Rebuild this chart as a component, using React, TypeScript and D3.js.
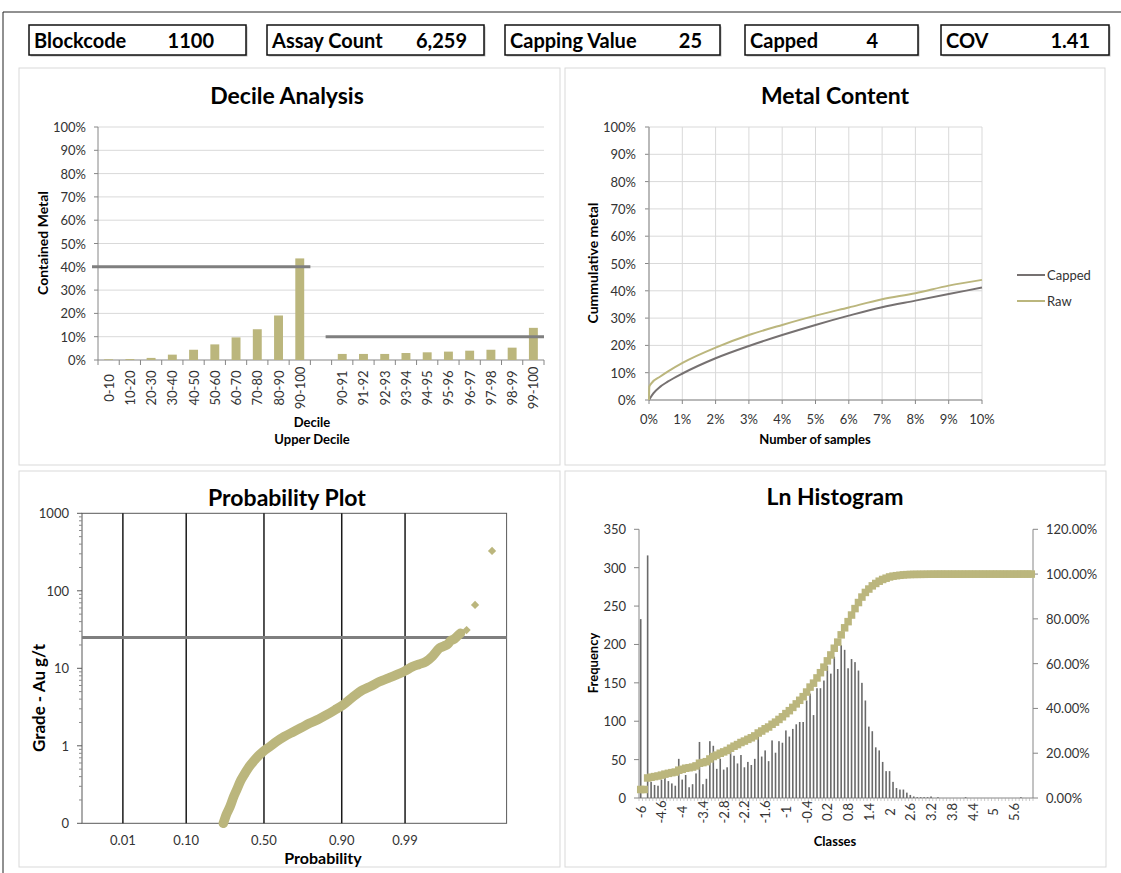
import React from 'react';
import * as d3 from 'd3';

// header strip
const headerLabels = ['Blockcode', 'Assay Count', 'Capping Value', 'Capped', 'COV'];
const headerValues = ['1100', '6,259', '25', '4', '1.41'];

// decile analysis (% of contained metal)
const decileLower = ['0-10', '10-20', '20-30', '30-40', '40-50', '50-60', '60-70', '70-80', '80-90', '90-100'];
const decileLowerMetal = [0.3, 0.4, 0.9, 2.3, 4.4, 6.7, 9.7, 13.2, 19.1, 43.6];
const decileUpper = ['90-91', '91-92', '92-93', '93-94', '94-95', '95-96', '96-97', '97-98', '98-99', '99-100'];
const decileUpperMetal = [2.6, 2.6, 2.6, 3.0, 3.3, 3.6, 4.0, 4.4, 5.3, 13.8];
const decileLowerRef = 40;
const decileUpperRef = 10;

// metal content (% of samples vs % cumulative metal)
const cappedSamples = [0, 0.13, 0.34, 0.56, 1.02, 2, 3, 4, 5, 6, 7, 8, 9, 10];
const cappedMetal = [0, 2.4, 4.9, 6.7, 9.8, 15.3, 19.8, 23.8, 27.5, 30.9, 34.0, 36.4, 38.8, 41.2];
const rawSamples = [0, 0.01, 0.07, 0.34, 0.56, 1.02, 2, 3, 4, 5, 6, 7, 8, 9, 10];
const rawMetal = [0, 4.9, 6.1, 8.6, 10.4, 13.7, 19.2, 23.8, 27.5, 30.9, 33.9, 36.9, 39.1, 41.9, 44.0];

// probability plot (normal score vs grade)
const probZ = [-0.67, -0.62, -0.56, -0.5, -0.45, -0.38, -0.315, -0.25, -0.18, -0.1, -0.015, 0.1, 0.205, 0.34,
  0.48, 0.62, 0.75, 0.9, 1.03, 1.17, 1.3, 1.47, 1.63, 1.77, 1.9, 2.04, 2.18, 2.32, 2.45, 2.56, 2.67, 2.78,
  2.89, 2.97, 3.03, 3.08, 3.14, 3.19, 3.24, 3.34, 3.48, 3.76];
const probGrade = [0.1, 0.13, 0.164, 0.22, 0.27, 0.36, 0.44, 0.53, 0.62, 0.73, 0.84, 0.98, 1.13, 1.32,
  1.51, 1.72, 1.95, 2.2, 2.5, 2.9, 3.36, 4.3, 5.25, 5.9, 6.7, 7.4, 8.2, 9.2, 10.5, 11.3, 12.2, 14.4,
  18.1, 19.4, 20.5, 22.7, 24, 26.1, 28.3, 31.2, 65.6, 327];
const probTickLabels = ['0.01', '0.10', '0.50', '0.90', '0.99'];
const probTickZ = [-2.326, -1.282, 0, 1.282, 2.326];
const gradeTicks = [0.1, 1, 10, 100, 1000];
const gradeTickLabels = ['0', '1', '10', '100', '1000'];
const cappingValue = 25;

// ln histogram frequencies, one per class
const histFreq = [
  233, 0, 316, 21, 17, 16,
  24, 27, 22, 19, 16, 51,
  24, 30, 14, 18, 32, 73,
  18, 25, 74, 68, 38, 51,
  37, 40, 61, 55, 45, 56,
  40, 47, 43, 51, 80, 54,
  62, 48, 75, 59, 74, 72,
  88, 80, 90, 96, 99, 99,
  127, 136, 108, 143, 143, 153,
  172, 162, 184, 168, 199, 193,
  169, 181, 177, 166, 150, 127,
  93, 87, 66, 62, 47, 35,
  35, 21, 13, 11, 11, 7,
  4, 2, 1, 1, 1, 1,
  2, 0, 1, 0, 0, 0,
  0, 0, 0, 0, 1, 0,
  0, 0, 0, 0, 0, 0,
  0, 0, 0, 0, 0, 0,
  0, 0, 1, 0, 0, 0,
];
const histClasses = [-6, ...d3.range(1, histFreq.length).map((k) => +(-5.1 + (k - 1) * 0.1).toFixed(1))];

const FONT = 'Lato, "Open Sans", sans-serif';
const OLIVE = '#BBB67D';
const GRID = '#d9d9d9';
const AXIS = '#868686';
const TXT = '#333';
const TICK = 13;

const Panel = ({ x, y, w, h }) => (
  <rect x={x} y={y} width={w} height={h} fill="white" stroke={GRID} strokeWidth={1} />
);

const Title = ({ x, y, text }) => (
  <text x={x} y={y} textAnchor="middle" fontSize={23} fontWeight="bold" fill="#000">{text}</text>
);

const VTitle = ({ x, y, text, size = 13 }) => (
  <text transform={`translate(${x},${y}) rotate(-90)`} textAnchor="middle" dominantBaseline="central"
    fontSize={size} fontWeight="bold" fill="#000">{text}</text>
);

function Header() {
  const boxX = [29, 267, 505, 745, 941];
  const boxW = [217, 217, 215, 173, 168];
  const valEnd = [214, 467, 702, 878, 1090];
  return (
    <g>
      <line x1={3} y1={12} x2={1121} y2={12} stroke="#222" />
      <line x1={3} y1={12} x2={3} y2={873} stroke="#222" />
      {headerLabels.map((l, i) => (
        <g key={l}>
          <rect x={boxX[i] + 1.5} y={26.5} width={boxW[i]} height={30} fill="#bbb" />
          <rect x={boxX[i]} y={25} width={boxW[i]} height={30} fill="white" stroke="#111" strokeWidth={1.5} />
          <text x={boxX[i] + 5} y={47.5} fontSize={20} fontWeight="bold" fill="#000">{l}</text>
          <text x={valEnd[i]} y={47.5} fontSize={20} fontWeight="bold" fill="#000" textAnchor="end">{headerValues[i]}</text>
        </g>
      ))}
    </g>
  );
}

function DecileChart() {
  const cats = [...decileLower, '', ...decileUpper];
  const vals = [...decileLowerMetal, null, ...decileUpperMetal];
  const x = d3.scaleBand<number>().domain(d3.range(cats.length)).range([98, 544]);
  const y = d3.scaleLinear().domain([0, 100]).range([360, 127]);
  const bw = x.bandwidth() * 0.42;
  const ticks = d3.range(0, 101, 10);
  const [x0, x1] = x.range();
  return (
    <g>
      <Panel x={19} y={68} w={541} h={397} />
      <Title x={287} y={104} text="Decile Analysis" />
      {ticks.map((t) => (
        <g key={t}>
          {t > 0 && <line x1={x0} x2={x1} y1={y(t)} y2={y(t)} stroke={GRID} />}
          <line x1={x0 - 4} x2={x0} y1={y(t)} y2={y(t)} stroke={AXIS} />
          <text x={86} y={y(t)} textAnchor="end" dominantBaseline="central" fontSize={TICK} fill={TXT}>{t}%</text>
        </g>
      ))}
      <line x1={x0} x2={x0} y1={y(0)} y2={y(100)} stroke={AXIS} />
      <line x1={x0} x2={x1} y1={y(0)} y2={y(0)} stroke={AXIS} />
      {d3.range(cats.length + 1).map((i) => {
        const px = x0 + i * x.step();
        return <line key={i} x1={px} x2={px} y1={y(0)} y2={y(0) + 5} stroke={AXIS} />;
      })}
      {vals.map((v, i) => v == null ? null : (
        <rect key={i} x={x(i) + (x.bandwidth() - bw) / 2} y={y(v)} width={bw} height={y(0) - y(v)} fill={OLIVE} />
      ))}
      <line x1={x(0) - 6} x2={x(10)} y1={y(decileLowerRef)} y2={y(decileLowerRef)} stroke="#7f7f7f" strokeWidth={3} />
      <line x1={x(11) - 6} x2={x1} y1={y(decileUpperRef)} y2={y(decileUpperRef)} stroke="#7f7f7f" strokeWidth={3} />
      {cats.map((c, i) => (
        <text key={i} transform={`translate(${x(i) + x.bandwidth() / 2},388) rotate(-90)`} textAnchor="middle"
          dominantBaseline="central" fontSize={TICK} fill={TXT}>{c}</text>
      ))}
      <text x={312} y={427} textAnchor="middle" fontSize={13} fontWeight="bold">Decile</text>
      <text x={312} y={444} textAnchor="middle" fontSize={13} fontWeight="bold">Upper Decile</text>
      <VTitle x={42} y={243} text="Contained Metal" size={14} />
    </g>
  );
}

function MetalChart() {
  const x = d3.scaleLinear().domain([0, 10]).range([649, 982]);
  const y = d3.scaleLinear().domain([0, 100]).range([400, 127]);
  const line = d3.line<[number, number]>().x((d) => x(d[0])).y((d) => y(d[1])).curve(d3.curveMonotoneX);
  const capped = cappedSamples.map((s, i) => [s, cappedMetal[i]] as [number, number]);
  const raw = rawSamples.map((s, i) => [s, rawMetal[i]] as [number, number]);
  const CAPPED = '#767171';
  return (
    <g>
      <Panel x={565} y={68} w={540} h={397} />
      <Title x={835} y={104} text="Metal Content" />
      {d3.range(0, 101, 10).map((t) => (
        <g key={t}>
          <line x1={x(0)} x2={x(10)} y1={y(t)} y2={y(t)} stroke={GRID} />
          <line x1={x(0) - 4} x2={x(0)} y1={y(t)} y2={y(t)} stroke={AXIS} />
          <text x={636} y={y(t)} textAnchor="end" dominantBaseline="central" fontSize={TICK} fill={TXT}>{t}%</text>
        </g>
      ))}
      {d3.range(0, 11).map((t) => (
        <g key={t}>
          <line x1={x(t)} x2={x(t)} y1={y(0)} y2={y(100)} stroke={GRID} />
          <line x1={x(t)} x2={x(t)} y1={y(0)} y2={y(0) + 4} stroke={AXIS} />
          <text x={x(t)} y={y(0) + 19} textAnchor="middle" dominantBaseline="central" fontSize={TICK} fill={TXT}>{t}%</text>
        </g>
      ))}
      <line x1={x(0)} x2={x(0)} y1={y(0)} y2={y(100)} stroke={AXIS} />
      <line x1={x(0)} x2={x(10)} y1={y(0)} y2={y(0)} stroke={AXIS} />
      <path d={line(capped)} fill="none" stroke={CAPPED} strokeWidth={2} />
      <path d={line(raw)} fill="none" stroke={OLIVE} strokeWidth={2} />
      <line x1={1017} x2={1045} y1={275} y2={275} stroke={CAPPED} strokeWidth={2} />
      <text x={1047} y={275} dominantBaseline="central" fontSize={TICK} fill={TXT}>Capped</text>
      <line x1={1017} x2={1045} y1={301} y2={301} stroke={OLIVE} strokeWidth={2} />
      <text x={1047} y={301} dominantBaseline="central" fontSize={TICK} fill={TXT}>Raw</text>
      <text x={815} y={444} textAnchor="middle" fontSize={13} fontWeight="bold">Number of samples</text>
      <VTitle x={592} y={263} text="Cummulative metal" size={14} />
    </g>
  );
}

function ProbChart() {
  const x = d3.scaleLinear().domain([-3, 4]).range([82, 506.6]);
  const y = d3.scaleLog().domain([0.1, 1000]).range([823.3, 513.3]);
  const pts = probZ.map((z, i) => [z, probGrade[i]] as [number, number]);
  const dense = pts.filter((p) => p[1] < 29);
  const line = d3.line<[number, number]>().x((d) => x(d[0])).y((d) => y(d[1])).curve(d3.curveMonotoneX);
  const diamond = d3.symbol(d3.symbolSquare, 34)();
  const minors = gradeTicks.slice(0, -1).flatMap((g) => d3.range(2, 10).map((m) => g * m));
  const [x0, x1] = x.range();
  return (
    <g>
      <Panel x={19} y={471} w={541} h={396} />
      <Title x={287} y={506} text="Probability Plot" />
      <rect x={x0} y={y(1000)} width={x1 - x0} height={y(0.1) - y(1000)} fill="none" stroke="#595959" />
      {probTickZ.map((z, i) => (
        <g key={i}>
          <line x1={x(z)} x2={x(z)} y1={y(0.1)} y2={y(1000)} stroke="#1a1a1a" strokeWidth={1.5} />
          <text x={x(z)} y={840} textAnchor="middle" dominantBaseline="central" fontSize={TICK} fill={TXT}>{probTickLabels[i]}</text>
        </g>
      ))}
      {gradeTicks.map((g, i) => (
        <g key={g}>
          <line x1={x0 - 5} x2={x0} y1={y(g)} y2={y(g)} stroke="#595959" />
          <text x={69} y={y(g)} textAnchor="end" dominantBaseline="central" fontSize={TICK} fill={TXT}>{gradeTickLabels[i]}</text>
        </g>
      ))}
      {minors.map((g) => (
        <line key={g} x1={x0 - 3} x2={x0} y1={y(g)} y2={y(g)} stroke="#8a8a8a" />
      ))}
      <line x1={x0} x2={x1} y1={y(cappingValue)} y2={y(cappingValue)} stroke="#7f7f7f" strokeWidth={3} />
      <path d={line(dense)} fill="none" stroke={OLIVE} strokeWidth={9.5} strokeLinecap="round" />
      {pts.map((p, i) => (
        <path key={i} d={diamond} transform={`translate(${x(p[0])},${y(p[1])}) rotate(45)`} fill={OLIVE} />
      ))}
      <text x={323} y={864} textAnchor="middle" fontSize={16} fontWeight="bold">Probability</text>
      <VTitle x={38} y={698} text="Grade - Au g/t" size={17} />
    </g>
  );
}

function HistChart() {
  const idx = d3.range(histFreq.length);
  const x = d3.scaleBand<number>().domain(idx).range([639, 1033]);
  const yL = d3.scaleLinear().domain([0, 350]).range([798, 529.3]);
  const yR = d3.scaleLinear().domain([0, 120]).range([798, 529.3]);
  const total = d3.sum(histFreq);
  const cum = Array.from(d3.cumsum(histFreq)).map((c) => (c / total) * 100);
  const bw = 1.6;
  const [x0, x1] = x.range();
  const ms = 7.5;
  return (
    <g>
      <Panel x={565} y={471} w={541} h={396} />
      <Title x={835} y={505} text="Ln Histogram" />
      {d3.range(0, 351, 50).map((t) => (
        <g key={t}>
          <line x1={x0 - 5} x2={x0} y1={yL(t)} y2={yL(t)} stroke={AXIS} />
          <text x={626} y={yL(t)} textAnchor="end" dominantBaseline="central" fontSize={TICK} fill={TXT}>{t}</text>
        </g>
      ))}
      {d3.range(0, 121, 20).map((t) => (
        <g key={t}>
          <line x1={x1} x2={x1 + 5} y1={yR(t)} y2={yR(t)} stroke={AXIS} />
          <text x={1046} y={yR(t)} dominantBaseline="central" fontSize={TICK} fill={TXT}>{t.toFixed(2)}%</text>
        </g>
      ))}
      <line x1={x0} x2={x0} y1={yL(0)} y2={yL(350)} stroke={AXIS} />
      <line x1={x1} x2={x1} y1={yR(0)} y2={yR(120)} stroke={AXIS} />
      <line x1={x0} x2={x1} y1={yL(0)} y2={yL(0)} stroke={AXIS} />
      {d3.range(histFreq.length + 1).map((i) => {
        const px = x0 + i * x.step();
        return <line key={i} x1={px} x2={px} y1={yL(0)} y2={yL(0) + 3} stroke="#a6a6a6" strokeWidth={0.6} />;
      })}
      {histFreq.map((f, i) => f > 0 && (
        <rect key={i} x={x(i) + (x.bandwidth() - bw) / 2} y={yL(f)} width={bw} height={yL(0) - yL(f)}
          fill="#6a6a6a" />
      ))}
      {cum.map((c, i) => (
        <rect key={i} x={x(i) + x.bandwidth() / 2 - ms / 2} y={yR(c) - ms / 2} width={ms} height={ms} fill={OLIVE} />
      ))}
      {idx.filter((i) => i % 6 === 0).map((i) => (
        <text key={i} transform={`translate(${x(i) + x.bandwidth() / 2},812) rotate(-90)`} textAnchor="middle"
          dominantBaseline="central" fontSize={TICK} fill={TXT}>{String(histClasses[i])}</text>
      ))}
      <text x={835} y={846} textAnchor="middle" fontSize={13} fontWeight="bold">Classes</text>
      <VTitle x={593} y={663} text="Frequency" />
    </g>
  );
}

export default function App() {
  return (
    <svg width={1121} height={873} style={{ position: 'absolute', left: 0, top: 0, background: 'white' }}
      fontFamily={FONT}>
      <rect width={1121} height={873} fill="white" />
      <Header />
      <DecileChart />
      <MetalChart />
      <ProbChart />
      <HistChart />
    </svg>
  );
}
